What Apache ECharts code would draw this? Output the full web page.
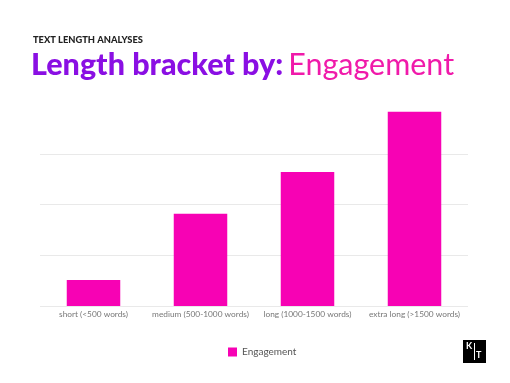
<!DOCTYPE html>
<html><head><meta charset="utf-8">
<script src="https://cdn.jsdelivr.net/npm/echarts@6/dist/echarts.min.js"></script>
<style>html,body{margin:0;padding:0;background:#fff}#c{width:510px;height:383px}</style>
</head><body><div id="c"></div>
<script>
var categories = ['short (<500 words)', 'medium (500-1000 words)', 'long (1000-1500 words)', 'extra long (>1500 words)'];
var engagement = [0.51, 1.82, 2.64, 3.83];
var seriesName = 'Engagement';
var kicker = 'TEXT LENGTH ANALYSES';
var titleBold = 'Length bracket by:';
var titleLight = 'Engagement';

var chart = echarts.init(document.getElementById('c'));
var pink = '#f702b4';
chart.setOption({
  backgroundColor: '#fff',
  animation: false,
  title: [{
    text: kicker, left: 28, top: 30,
    textStyle: { fontFamily: 'Lato', fontWeight: 900, fontSize: 9.3, color: '#222' }
  }, {
    text: '{b|' + titleBold + '} {l|' + titleLight + '}', left: 26, top: 45,
    textStyle: {
      rich: {
        b: { fontFamily: 'Lato', fontWeight: 900, fontSize: 30.5, color: '#8a0fe3' },
        l: { fontFamily: 'Lato', fontWeight: 400, fontSize: 30.5, color: '#f01aaa' }
      }
    }
  }],
  legend: {
    data: [seriesName], left: 223, top: 342, itemWidth: 9, itemHeight: 9, itemGap: 6,
    icon: 'rect',
    textStyle: { fontFamily: 'Lato', fontSize: 10, color: '#555' }
  },
  grid: { left: 40, right: 42, top: 103, bottom: 77, containLabel: false },
  xAxis: {
    type: 'category', data: categories,
    axisLine: { show: false }, axisTick: { show: false },
    axisLabel: { interval: 0, fontFamily: 'Lato', fontSize: 8.3, color: '#777', margin: 4 }
  },
  yAxis: {
    type: 'value', min: 0, max: 4, interval: 1,
    axisLabel: { show: false }, axisLine: { show: false }, axisTick: { show: false },
    splitLine: { lineStyle: { color: ['#e9e9e9', '#e9e9e9', '#e9e9e9', '#e9e9e9', 'rgba(0,0,0,0)'], width: 1 } }
  },
  series: [{
    name: seriesName, type: 'bar', data: engagement, barWidth: '50%',
    itemStyle: { color: pink }
  }],
  graphic: [{
    type: 'group', left: 463, top: 340,
    children: [
      { type: 'rect', shape: { x: 0, y: 0, width: 23, height: 23 }, style: { fill: '#000' } },
      { type: 'line', shape: { x1: 11.5, y1: 3, x2: 11.5, y2: 20 }, style: { stroke: '#fff', lineWidth: 1 } },
      { type: 'text', x: 3, y: 2, style: { text: 'K', fill: '#fff', fontFamily: 'Lato', fontSize: 9, fontWeight: 700 } },
      { type: 'text', x: 13, y: 11, style: { text: 'T', fill: '#fff', fontFamily: 'Lato', fontSize: 9, fontWeight: 700 } }
    ]
  }]
});
</script></body></html>
